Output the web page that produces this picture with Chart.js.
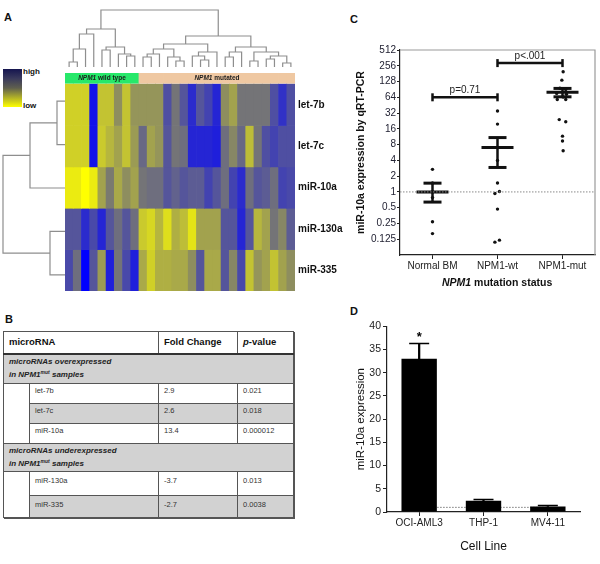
<!DOCTYPE html>
<html><head><meta charset="utf-8">
<script src="https://cdn.jsdelivr.net/npm/chart.js@4.4.0/dist/chart.umd.min.js"></script>
<style>
html,body{margin:0;padding:0;background:#fff;}
body{width:600px;height:564px;position:relative;overflow:hidden;font-family:"Liberation Sans",Arial,Helvetica,sans-serif;color:#111;}
canvas{position:absolute;}
.lbl{position:absolute;font-weight:bold;white-space:nowrap;}
#legendBox{position:absolute;left:3px;top:69px;width:19px;height:38px;background:linear-gradient(to bottom,#15154f 0%,#3a3a5c 25%,#5f5f4e 50%,#b0b028 75%,#ffff00 100%);}
#tb{position:absolute;left:3px;top:331px;width:290px;border-collapse:collapse;table-layout:fixed;box-shadow:1px 1px 0 #555;}
#tb td{border:1px solid #555;padding:0 0 0 5px;font-size:7.5px;line-height:10px;color:#333;vertical-align:top;overflow:hidden;white-space:nowrap;}
#tb tr.hd td{font-size:9.5px;font-weight:bold;color:#111;vertical-align:middle;border-bottom:2px solid #333;background:#fff;}
#tb tr.grp td{background:#d2d2d2;font-size:8px;font-weight:bold;font-style:italic;line-height:13.4px;color:#222;}
#tb tr.gray td.v{background:#d2d2d2;}
#tb td.ind{background:#fff;}
#tb sup{font-size:5px;line-height:0;vertical-align:3px;}
</style></head><body>

<div class="lbl" style="left:4px;top:11px;font-size:11px;">A</div>
<div class="lbl" style="left:5px;top:313px;font-size:11px;">B</div>
<div class="lbl" style="left:350px;top:13px;font-size:11px;">C</div>
<div class="lbl" style="left:350px;top:305px;font-size:11px;">D</div>

<div id="legendBox"></div>
<div class="lbl" style="left:23px;top:67px;font-size:8px;">high</div>
<div class="lbl" style="left:23px;top:101px;font-size:8px;">low</div>

<canvas id="dendTop" width="240" height="66" style="left:60px;top:4px"></canvas>
<canvas id="dendLeft" width="66" height="225" style="left:0px;top:75px"></canvas>
<canvas id="heat" width="290" height="236" style="left:60px;top:64px"></canvas>
<canvas id="chartC" width="260" height="262" style="left:340px;top:38px"></canvas>
<canvas id="chartD" width="260" height="246" style="left:340px;top:318px"></canvas>

<div class="lbl" style="left:442px;top:276px;font-size:10.5px;"><i>NPM1</i> mutation status</div>

<table id="tb"></table>

<script>
// ---------------- DATA ----------------
// Panel A: heatmap (relative expression, -2 = low/yellow, +2 = high/blue)
const heatRows = ['let-7b','let-7c','miR-10a','miR-130a','miR-335'];
const colGroup = ['wt','wt','wt','wt','wt','wt','wt','wt','wt',
  'mut','mut','mut','mut','mut','mut','mut','mut','mut','mut',
  'mut','mut','mut','mut','mut','mut','mut','mut','mut'];
const groupLabels = {wt:'wild type', mut:'mutated'};
const let7bVals   = [-1.3,-1.3,-1.3,1.7,-1.1,-1.1,-0.3,-1.1,-0.4,-0.4,-0.4,-0.4,0.7,0.1,0.6,1.3,0.6,0.9,1.4,-0.3,-0.6,0.1,0.1,0.1,0.1,0.7,1.2,0.7];
const let7cVals   = [-1.3,-1.3,-1.3,1.7,-1.2,-0.9,-0.6,-1.1,-0.5,0.3,-0.6,-0.4,0.6,0.1,0.2,1.4,1.4,1.4,1.5,0.2,-0.2,0.3,-1.0,0.1,0.7,0.9,0.7,0.7];
const miR10aVals  = [-1.7,-1.7,-2.0,-1.7,-0.6,0.0,-0.7,-0.3,-0.6,0.1,0.2,0.2,0.6,0.4,0.6,0.5,0.5,0.9,0.6,0.2,0.9,1.3,0.2,0.6,0.5,0.2,0.9,0.8];
const miR130aVals = [0.6,0.6,1.3,0.8,1.4,0.6,0.2,0.6,0.2,-1.2,-1.4,-0.9,-1.5,-0.8,-1.0,-1.6,-0.6,-0.6,-0.6,0.6,0.6,1.4,0.6,-0.9,-0.6,0.1,-0.2,0.5];
const miR335Vals  = [0.8,0.2,2.0,0.6,-0.5,1.5,0.1,0.8,1.5,-0.7,-1.3,-0.8,-0.8,-0.7,-0.7,-0.3,0.6,-0.7,-0.7,0.6,-0.2,0.8,-1.1,-0.4,-0.6,-1.1,-0.6,-0.3];
// column dendrogram merges [childA, childB, height]; leaves 0..27, merged nodes 28+
const colMerges = [[0,1,5],[28,2,18],[29,3,33],[4,5,17],[7,8,11],[6,32,13],[31,33,20],[30,34,38],
  [9,10,10],[36,11,13],[13,14,6],[12,38,10],[37,39,18],[16,17,7],[15,41,11],[42,18,15],[40,43,23],
  [19,20,10],[45,21,15],[22,23,6],[24,25,8],[26,27,4],[48,49,11],[47,50,15],[46,51,20],
  [44,52,31],[35,53,57]];
// row dendrogram merges; leaves 0..4, merged nodes 5+
const rowMerges = [[0,1,8],[5,2,35],[3,4,15],[6,7,62]];

// Panel B: table
const tabMiRNA = ['let-7b','let-7c','miR-10a','miR-130a','miR-335'];
const tabFold  = ['2.9','2.6','13.4','-3.7','-2.7'];
const tabPval  = ['0.021','0.018','0.000012','0.013','0.0038'];

// Panel C: miR-10a by qRT-PCR
const groupsC = ['Normal BM','NPM1-wt','NPM1-mut'];
const normalBM     = [2.7,1.48,1.0,0.78,0.27,0.16];
const normalBMOff  = [0,0,0,0,0,0];
const npm1wt       = [35,19.7,4.0,1.48,0.93,1.02,0.47,0.11,0.12];
const npm1wtOff    = [0,0,0,0,-0.04,0.03,0,-0.04,0.03];
const npm1mut      = [197,136,95,90,76,73,65,58,58,24,21.8,11.6,9.4,6.1];
const npm1mutOff   = [0.01,-0.01,-0.04,0.05,-0.09,0.06,0.01,-0.08,0.05,-0.05,0.05,0,0,0.01];
const meansC   = [1.0,7.06,79.5];
const semLowC  = [0.64,2.93,65.4];
const semHighC = [1.47,10.9,94.6];
const yTicksC  = [0.125,0.25,0.5,1,2,4,8,16,32,64,128,256,512];
const compareC = [[0,1,64,'p=0.71'],[1,2,288,'p<.001']];

// Panel D: cell lines
const cellLines  = ['OCI-AML3','THP-1','MV4-11'];
const mir10aExpr = [33,2.4,1.2];
const mir10aErr  = [3.3,0.3,0.2];
const starred    = [true,false,false];

// ---------------- SETUP ----------------
const FONT = '"Liberation Sans", Arial, Helvetica, sans-serif';
Chart.defaults.font.family = FONT;
Chart.defaults.color = '#222';
Chart.defaults.animation = false;
Chart.defaults.responsive = false;
Chart.defaults.devicePixelRatio = 1;
Chart.defaults.plugins.legend.display = false;
Chart.defaults.plugins.tooltip.enabled = false;
Chart.defaults.layout.autoPadding = false;

function heatColor(v){
  const t = Math.max(-2,Math.min(2,v))/2;
  const Y=[255,255,0], G=[122,122,112], B=[0,0,255];
  const tgt = t<0 ? Y : B, f = Math.abs(t);
  const c = G.map((x,i)=>Math.round(x+(tgt[i]-x)*f));
  return 'rgb('+c.join(',')+')';
}

function dendroLinks(merges, nLeaves){
  const pos = [], hts = [];
  for(let i=0;i<nLeaves;i++){pos.push(i+0.5);hts.push(0);}
  const links = [];
  merges.forEach(([a,b,h])=>{
    links.push([[pos[a],hts[a]],[pos[a],h],[pos[b],h],[pos[b],hts[b]]]);
    pos.push((pos[a]+pos[b])/2); hts.push(h);
  });
  return links;
}

// ---------------- PANEL A ----------------
const heatSeries = [let7bVals,let7cVals,miR10aVals,miR130aVals,miR335Vals];
const colIds = colGroup.map((g,i)=>'S'+(i+1));
const heatDatasets = heatSeries.map((vals,r)=>({
  data: vals.map(()=>[r,r+1]),
  backgroundColor: vals.map(heatColor),
  borderWidth: 0, grouped:false, barPercentage:1, categoryPercentage:1
}));
heatDatasets.push({
  data: colGroup.map(()=>[-0.27,-0.02]),
  backgroundColor: colGroup.map(g=>g==='wt'?'#27e86a':'#efc8a2'),
  borderWidth:0, grouped:false, barPercentage:1, categoryPercentage:1
});

const bandText = {
  id:'bandText',
  afterDatasetsDraw(chart){
    const meta = chart.getDatasetMeta(chart.data.datasets.length-1);
    const ctx = chart.ctx;
    ['wt','mut'].forEach(g=>{
      const idx = colGroup.map((v,i)=>v===g?i:-1).filter(i=>i>=0);
      const b0 = meta.data[idx[0]], b1 = meta.data[idx[idx.length-1]];
      const xc = (b0.x+b1.x)/2, yc = (b0.y+b0.base)/2;
      const f1 = 'italic bold 6.5px '+FONT, f2 = 'bold 6.5px '+FONT;
      ctx.save(); ctx.fillStyle='#1b1b1b'; ctx.textBaseline='middle'; ctx.textAlign='left';
      ctx.font=f1; const w1 = ctx.measureText('NPM1 ').width;
      ctx.font=f2; const w2 = ctx.measureText(groupLabels[g]).width;
      const x = xc-(w1+w2)/2;
      ctx.font=f1; ctx.fillText('NPM1 ',x,yc);
      ctx.font=f2; ctx.fillText(groupLabels[g],x+w1,yc);
      ctx.restore();
    });
  }
};

new Chart(document.getElementById('heat'),{
  type:'bar',
  data:{labels:colIds, datasets:heatDatasets},
  options:{
    layout:{padding:{left:5,top:4,bottom:3.5,right:0}},
    scales:{
      x:{display:false},
      y:{type:'linear',position:'right',reverse:true,min:-0.27,max:5,
         grid:{display:false,drawTicks:false},border:{display:false},
         afterBuildTicks:(s)=>{s.ticks=heatRows.map((r,i)=>({value:i+0.5}));},
         afterFit:(s)=>{s.width=55;},
         ticks:{padding:3,color:'#111',font:{size:10,weight:'bold'},
           callback:(v)=>heatRows[Math.round(v-0.5)]}}
    }
  },
  plugins:[bandText]
});

const dendColor = '#8e8e8e';
new Chart(document.getElementById('dendTop'),{
  type:'scatter',
  data:{datasets:dendroLinks(colMerges,colGroup.length).map(l=>({
    data:l.map(p=>({x:p[0]-0.5,y:p[1]})), showLine:true, pointRadius:0,
    borderColor:dendColor, borderWidth:1.2, clip:false}))},
  options:{
    layout:{padding:{left:5,right:5,top:4,bottom:3}},
    scales:{x:{type:'linear',display:false,min:-0.5,max:27.5},
            y:{type:'linear',display:false,min:0,max:59}}
  }
});

new Chart(document.getElementById('dendLeft'),{
  type:'scatter',
  data:{datasets:dendroLinks(rowMerges,heatRows.length).map(l=>({
    data:l.map(p=>({x:p[1],y:p[0]})), showLine:true, pointRadius:0,
    borderColor:dendColor, borderWidth:1.2, clip:false}))},
  options:{
    layout:{padding:{left:3,right:1,top:4.5,bottom:3.5}},
    scales:{x:{type:'linear',display:false,min:0,max:62,reverse:true},
            y:{type:'linear',display:false,min:0,max:5,reverse:true}}
  }
});

// ---------------- PANEL B ----------------
(function(){
  const tb = document.getElementById('tb');
  let h = '<colgroup><col style="width:26px"><col style="width:129px"><col style="width:79px"><col style="width:56px"></colgroup>';
  h += '<tr class="hd" style="height:22px"><td colspan="2">microRNA</td><td>Fold Change</td><td><i>p</i>-value</td></tr>';
  const grp = (t,ht)=>'<tr class="grp" style="height:'+ht+'px"><td colspan="4">microRNAs '+t+'<br>in NPM1<sup>mut</sup> samples</td></tr>';
  const rowH = [20,20,20,24,22];
  const gray = [false,true,false,false,true];
  const row = (i,first,span)=>{
    const pad = rowH[i]>21 ? 4 : 1.5;
    let r = '<tr class="'+(gray[i]?'gray':'')+'" style="height:'+rowH[i]+'px">';
    if(first) r += '<td class="ind" rowspan="'+span+'"></td>';
    const st = ' style="padding-top:'+pad+'px"';
    r += '<td class="v"'+st+'>'+tabMiRNA[i]+'</td><td class="v"'+st+'>'+tabFold[i]+'</td><td class="v"'+st+'>'+tabPval[i]+'</td></tr>';
    return r;
  };
  h += grp('overexpressed',30);
  h += row(0,true,3)+row(1,false)+row(2,false);
  h += grp('underexpressed',27);
  h += row(3,true,2)+row(4,false);
  tb.innerHTML = h;
})();

// ---------------- PANEL C ----------------
const ptsC = [];
[[normalBM,normalBMOff],[npm1wt,npm1wtOff],[npm1mut,npm1mutOff]].forEach(([vals,off],gi)=>{
  vals.forEach((v,j)=>ptsC.push({x:gi+off[j],y:v}));
});
const blk = '#111';
const dsC = [];
dsC.push({data:[{x:-0.5,y:1},{x:2.5,y:1}],showLine:true,pointRadius:0,borderColor:'#8a8a8a',borderWidth:1,borderDash:[1.5,1.5]});
dsC.push({data:ptsC,pointRadius:1.7,pointBackgroundColor:blk,pointBorderWidth:0});
groupsC.forEach((g,i)=>dsC.push({data:[{x:i,y:semLowC[i]},{x:i,y:semHighC[i]}],showLine:true,pointRadius:0,borderColor:blk,borderWidth:2.5}));
dsC.push({data:meansC.map((m,i)=>({x:i,y:m})),pointStyle:'line',pointRadius:16,pointBorderWidth:3,pointBorderColor:blk});
dsC.push({data:semLowC.map((m,i)=>({x:i,y:m})).concat(semHighC.map((m,i)=>({x:i,y:m}))),pointStyle:'line',pointRadius:9,pointBorderWidth:3,pointBorderColor:blk});
compareC.forEach(([a,b,h])=>{
  dsC.push({data:[{x:a,y:h},{x:b,y:h}],showLine:true,borderColor:blk,borderWidth:2.5,
    pointStyle:'line',rotation:90,pointRadius:4,pointBorderWidth:2.5,pointBorderColor:blk});
});

const frameC = {
  id:'frameC',
  beforeDatasetsDraw(chart){
    const {ctx,chartArea:a} = chart;
    ctx.save(); ctx.strokeStyle='#9a9a9a'; ctx.lineWidth=1.2;
    ctx.beginPath(); ctx.moveTo(a.left,a.top); ctx.lineTo(a.right,a.top); ctx.lineTo(a.right,a.bottom); ctx.stroke();
    ctx.restore();
  },
  afterDatasetsDraw(chart){
    const {ctx} = chart, xs = chart.scales.x, ys = chart.scales.y;
    ctx.save(); ctx.fillStyle='#222'; ctx.font='10px '+FONT; ctx.textAlign='center'; ctx.textBaseline='bottom';
    compareC.forEach(([a,b,h,t])=>{
      ctx.fillText(t, xs.getPixelForValue((a+b)/2), ys.getPixelForValue(h)-2);
    });
    ctx.restore();
  }
};

new Chart(document.getElementById('chartC'),{
  type:'scatter',
  data:{datasets:dsC},
  options:{
    layout:{padding:{left:0,right:5,top:12,bottom:0}},
    scales:{
      x:{type:'linear',min:-0.5,max:2.5,
         afterBuildTicks:(s)=>{s.ticks=groupsC.map((g,i)=>({value:i}));},
         afterFit:(s)=>{s.height=45;},
         grid:{drawOnChartArea:false,tickLength:4,color:'#222'},
         border:{color:'#222',width:1.2},
         ticks:{padding:1,font:{size:10},color:'#222',callback:(v)=>groupsC[v]}},
      y:{type:'logarithmic',min:0.0625,max:512,
         afterBuildTicks:(s)=>{s.ticks=yTicksC.map(v=>({value:v}));},
         afterFit:(s)=>{s.width=60;},
         grid:{drawOnChartArea:false,tickLength:3,color:'#222'},
         border:{color:'#222',width:1.2},
         title:{display:true,text:'miR-10a expression by qRT-PCR',font:{size:10.5,weight:'bold'},color:'#111',padding:{top:14.5,bottom:0}},
         ticks:{padding:1,font:{size:10},color:'#223',callback:(v)=>String(v)}}
    }
  },
  plugins:[frameC]
});

// ---------------- PANEL D ----------------
const starD = {
  id:'starD',
  afterDatasetsDraw(chart){
    const {ctx} = chart, xs = chart.scales.x, ys = chart.scales.y;
    ctx.save(); ctx.fillStyle='#000'; ctx.font='bold 13px '+FONT; ctx.textAlign='center'; ctx.textBaseline='alphabetic';
    starred.forEach((s,i)=>{ if(s) ctx.fillText('*', xs.getPixelForValue(i), ys.getPixelForValue(mir10aExpr[i]+mir10aErr[i])-2); });
    ctx.restore();
  }
};

new Chart(document.getElementById('chartD'),{
  type:'bar',
  data:{labels:cellLines,datasets:[
    {data:mir10aExpr,backgroundColor:'#000',barPercentage:0.55,categoryPercentage:1,borderWidth:0,grouped:false},
    {data:mir10aExpr.map((v,i)=>[v,v+mir10aErr[i]]),backgroundColor:'#000',barThickness:1.6,grouped:false,borderWidth:0},
    {type:'line',data:mir10aExpr.map((v,i)=>v+mir10aErr[i]),showLine:false,pointStyle:'line',pointRadius:10,pointBorderWidth:1.5,pointBorderColor:'#000'},
    {type:'scatter',xAxisID:'xl',data:[{x:0,y:1},{x:1,y:1}],showLine:true,pointRadius:0,borderColor:'#777',borderWidth:1,borderDash:[1.5,1.5]}
  ]},
  options:{
    layout:{padding:{left:0,right:20,top:8,bottom:0}},
    scales:{
      x:{type:'category',offset:true,
         afterFit:(s)=>{s.height=52;},
         grid:{offset:false,drawOnChartArea:false,tickLength:4,color:'#222'},
         border:{color:'#222',width:1.2},
         title:{display:true,text:'Cell Line',font:{size:12},color:'#111',padding:{top:0,bottom:10}},
         ticks:{padding:1,font:{size:10},color:'#222'}},
      xl:{type:'linear',display:false,min:0,max:1},
      y:{type:'linear',min:0,max:40,
         afterFit:(s)=>{s.width=47;},
         grid:{drawOnChartArea:false,tickLength:4,color:'#222'},
         border:{color:'#222',width:1.2},
         title:{display:true,text:'miR-10a expression',font:{size:11.5},color:'#111',padding:{top:14,bottom:0}},
         ticks:{stepSize:5,padding:2,font:{size:10.5},color:'#222'}}
    }
  },
  plugins:[starD]
});
</script>
</body></html>
